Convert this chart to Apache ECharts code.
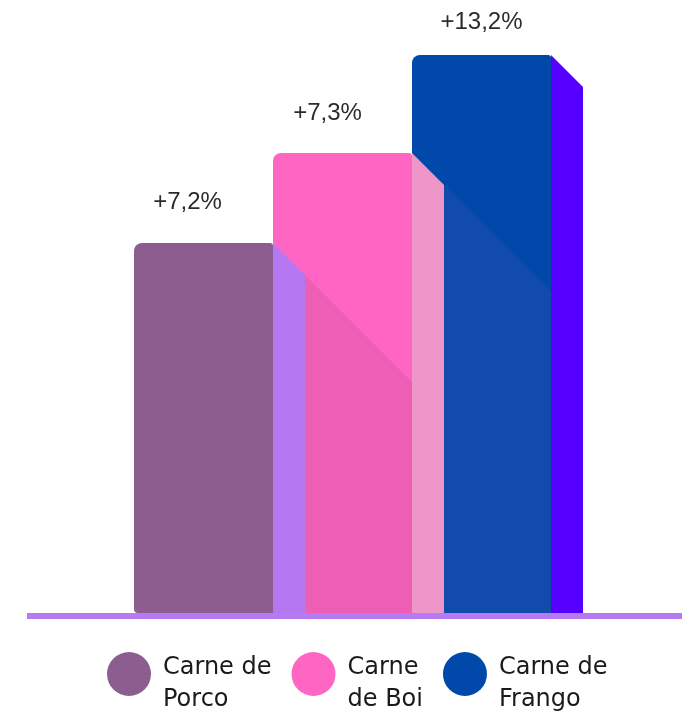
<!DOCTYPE html>
<html>
<head>
<meta charset="utf-8">
<script src="https://cdn.jsdelivr.net/npm/echarts@6/dist/echarts.min.js"></script>
<style>
  html, body { margin: 0; padding: 0; background: #fff; }
  #main { width: 682px; height: 714px; }
</style>
</head>
<body>
<div id="main"></div>
<script>
// dados
var categories = ['Porco', 'Boi', 'Frango'];
var legendNames = ['Carne de\nPorco', 'Carne\nde Boi', 'Carne de\nFrango'];
var values = [37.0, 46.0, 55.8];          // altura das barras
var labels = ['+7,2%', '+7,3%', '+13,2%'];

// estilo
var frontColors = ['#8b5e8f', '#ff66c4', '#0049ab'];
var sideColors = ['#b677f3', '#ee96c8', '#5500ff'];
var shadowColors = [null, '#ec5fb5', '#134bad'];
var labelOffsets = [[-16, -41], [-15, -40], [0, -33]];
var depth = 32;

var myChart = echarts.init(document.getElementById('main'));

function renderBar(params, api) {
    var i = api.value(0);
    var top = api.coord([i, api.value(1)]);
    var base = api.coord([i, 0]);
    var band = api.size([1, 0])[0];
    var x0 = top[0] - band / 2, x1 = top[0] + band / 2;
    var y0 = top[1], y1 = base[1];
    var z = (categories.length - i) * 10;
    var children = [
        {
            type: 'rect',
            shape: { x: x0, y: y0, width: x1 - x0, height: y1 - y0, r: [8, 3, 0, 4] },
            style: { fill: frontColors[i] },
            z2: z
        },
        {
            type: 'polygon',
            shape: { points: [[x1, y0], [x1 + depth, y0 + depth], [x1 + depth, y1], [x1, y1]] },
            style: { fill: sideColors[i] },
            z2: z + 2
        }
    ];
    // sombra da barra anterior
    if (i > 0) {
        var prev = api.coord([i - 1, values[i - 1]]);
        var px = prev[0] + band / 2 + depth, py = prev[1] + depth;
        children.push({
            type: 'polygon',
            shape: { points: [[px, py], [x1, py + (x1 - px)], [x1, y1], [px, y1]] },
            style: { fill: shadowColors[i] },
            z2: z + 1
        });
    }
    children.push({
        type: 'text',
        style: {
            x: top[0] + labelOffsets[i][0],
            y: y0 + labelOffsets[i][1],
            text: labels[i],
            fill: '#2b2b2b',
            font: '24px "Liberation Sans", Arial, sans-serif',
            align: 'center',
            verticalAlign: 'middle'
        },
        z2: 100
    });
    return { type: 'group', children: children };
}

var series = [];
for (var k = 0; k < categories.length; k++) {
    series.push({
        name: legendNames[k],
        type: 'custom',
        renderItem: renderBar,
        itemStyle: { color: frontColors[k] },
        encode: { x: 0, y: 1 },
        data: [[k, values[k]]]
    });
}

var option = {
    animation: false,
    backgroundColor: '#fff',
    grid: { left: 134, right: 131, top: 13, bottom: 101 },
    xAxis: {
        type: 'category',
        data: categories,
        show: false
    },
    yAxis: {
        type: 'value',
        min: 0,
        max: 60,
        show: false
    },
    legend: {
        left: 107,
        top: 637,
        padding: 0,
        icon: 'circle',
        itemWidth: 44,
        itemHeight: 44,
        itemGap: 20,
        selectedMode: false,
        // linha vazia no topo para descer o texto em relação ao círculo
        formatter: function (name) {
            return '{gap| }\n' + name.split('\n').map(function (l) {
                return '{t|' + l + '}';
            }).join('\n');
        },
        textStyle: {
            color: '#1a1a1a',
            padding: [0, 0, 0, 7],
            rich: {
                gap: { lineHeight: 20, fontSize: 10 },
                t: { fontFamily: 'DejaVu Sans', fontSize: 24, lineHeight: 32, color: '#1a1a1a' }
            }
        },
        data: legendNames
    },
    graphic: [{
        type: 'rect',
        left: 27,
        top: 613,
        shape: { width: 655, height: 6 },
        style: { fill: '#b87af3' },
        z: 0
    }],
    series: series
};

myChart.setOption(option);
</script>
</body>
</html>
